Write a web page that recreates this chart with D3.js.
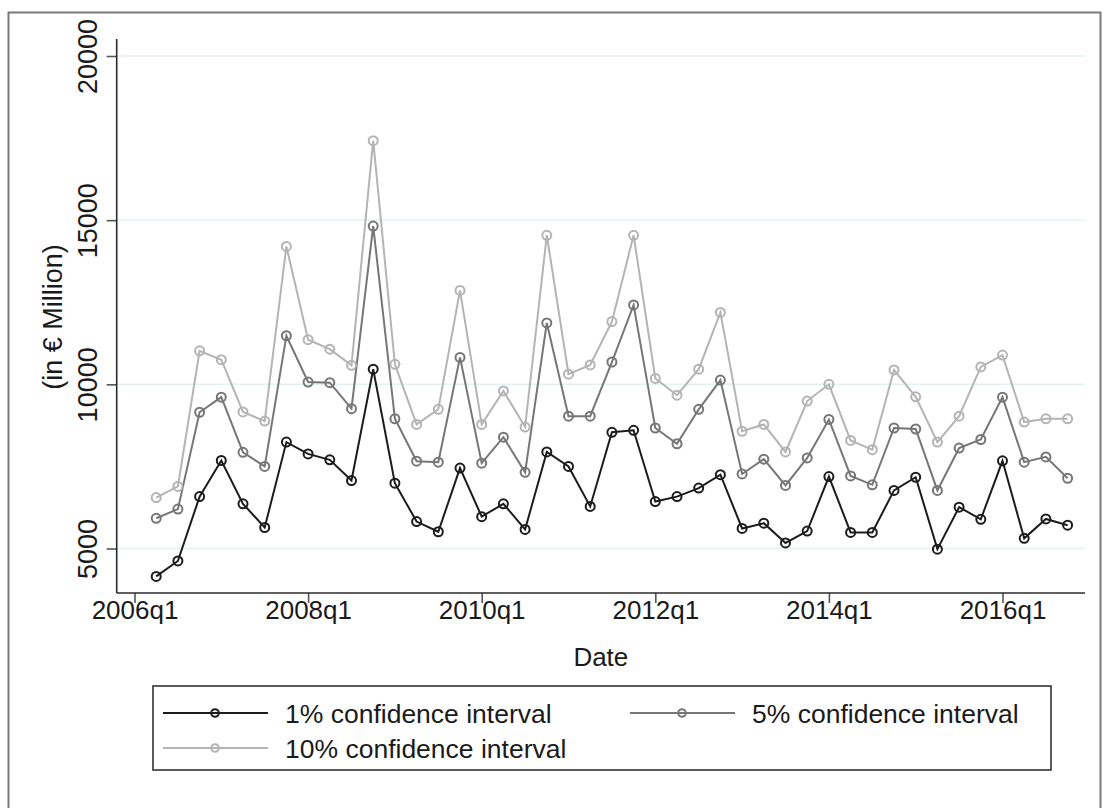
<!DOCTYPE html>
<html>
<head>
<meta charset="utf-8">
<script src="https://cdn.jsdelivr.net/npm/d3@7/dist/d3.min.js"></script>
<style>
  html, body { margin: 0; padding: 0; background: #fff; }
  svg { display: block; font-family: "Liberation Sans", Arial, sans-serif; }
</style>
</head>
<body>
<svg id="chart" width="1105" height="808"></svg>
<script>
// ---- data ----
const quarters = [
  "2006q2","2006q3","2006q4","2007q1","2007q2","2007q3","2007q4",
  "2008q1","2008q2","2008q3","2008q4","2009q1","2009q2","2009q3","2009q4",
  "2010q1","2010q2","2010q3","2010q4","2011q1","2011q2","2011q3","2011q4",
  "2012q1","2012q2","2012q3","2012q4","2013q1","2013q2","2013q3","2013q4",
  "2014q1","2014q2","2014q3","2014q4","2015q1","2015q2","2015q3","2015q4",
  "2016q1","2016q2","2016q3","2016q4"
];
const ci1 = [
  4150, 4620, 6580, 7680, 6360, 5640, 8240,
  7880, 7700, 7070, 10460, 6990, 5820, 5510, 7450,
  5970, 6360, 5580, 7940, 7500, 6280, 8540, 8600,
  6430, 6580, 6840, 7250, 5610, 5770, 5170, 5530,
  7190, 5490, 5490, 6770, 7170, 4980, 6260, 5890,
  7670, 5310, 5900, 5710
];
const ci5 = [
  5920, 6200, 9150, 9610, 7930, 7500, 11480,
  10070, 10050, 9260, 14820, 8950, 7660, 7630, 10820,
  7600, 8390, 7320, 11870, 9030, 9030, 10680, 12420,
  8670, 8190, 9240, 10130, 7270, 7720, 6920, 7760,
  8930, 7210, 6940, 8670, 8640, 6770, 8060, 8320,
  9610, 7630, 7790, 7140
];
const ci10 = [
  6550, 6890, 11020, 10750, 9160, 8880, 14200,
  11360, 11070, 10580, 17420, 10610, 8780, 9240, 12860,
  8780, 9800, 8700, 14540, 10310, 10590, 11910, 14540,
  10180, 9670, 10460, 12190, 8570, 8780, 7940, 9490,
  10000, 8290, 8010, 10440, 9620, 8240, 9030, 10530,
  10890, 8850, 8950, 8950
];
const xTickLabels = ["2006q1","2008q1","2010q1","2012q1","2014q1","2016q1"];
const yTicks = [5000, 10000, 15000, 20000];
const seriesNames = ["1% confidence interval", "5% confidence interval", "10% confidence interval"];

// ---- helpers ----
const qIndex = s => (parseInt(s.slice(0,4)) - 2006) * 4 + (parseInt(s.slice(5)) - 1);

const svg = d3.select("#chart");
const W = 1105, H = 808;

// plot geometry
const axisLeft = 116.7, axisRight = 1085, axisBottom = 593, axisTop = 39;

const x = d3.scaleLinear().domain([0, 40]).range([134.5, 1002.5]);
const y = d3.scaleLinear().domain([5000, 20000]).range([548.5, 56]);

// outer frame
svg.append("rect").attr("x", 8.5).attr("y", 12.5).attr("width", 1092).attr("height", 820)
  .attr("fill", "none").attr("stroke", "#7a7a7a").attr("stroke-width", 2);

// gridlines
svg.append("g").selectAll("line").data(yTicks).join("line")
  .attr("x1", axisLeft).attr("x2", axisRight)
  .attr("y1", d => y(d)).attr("y2", d => y(d))
  .attr("stroke", "#e6eff1").attr("stroke-width", 1.5);

// y axis
const yAxis = d3.axisLeft(y).tickValues(yTicks).tickSize(10).tickFormat(d3.format("d"));
const gy = svg.append("g").attr("transform", `translate(${axisLeft},0)`).call(yAxis);
gy.select(".domain").remove();
gy.append("line").attr("x1", 0).attr("x2", 0).attr("y1", axisTop).attr("y2", axisBottom)
  .attr("stroke", "#2a2a2a").attr("stroke-width", 1.6);
gy.selectAll(".tick line").attr("stroke", "#555").attr("stroke-width", 1.6);
gy.selectAll(".tick text")
  .attr("x", null).attr("dy", null)
  .attr("transform", "translate(-20,0) rotate(-90)")
  .attr("text-anchor", "middle")
  .attr("font-size", 27).attr("fill", "#1a1a1a")
  .attr("font-family", "Liberation Sans, Arial, sans-serif");

// x axis
const xAxis = d3.axisBottom(x).tickValues(xTickLabels.map(qIndex)).tickSize(10)
  .tickFormat((d, i) => xTickLabels[i]);
const gx = svg.append("g").attr("transform", `translate(0,${axisBottom})`).call(xAxis);
gx.select(".domain").remove();
gx.append("line").attr("x1", axisLeft).attr("x2", axisRight).attr("y1", 0).attr("y2", 0)
  .attr("stroke", "#2a2a2a").attr("stroke-width", 1.6);
gx.selectAll(".tick line").attr("stroke", "#555").attr("stroke-width", 1.6);
gx.selectAll(".tick text")
  .attr("y", 26).attr("dy", null)
  .attr("font-size", 26).attr("fill", "#1a1a1a")
  .attr("font-family", "Liberation Sans, Arial, sans-serif");

// axis titles
svg.append("text").attr("x", (axisLeft + axisRight) / 2).attr("y", 666)
  .attr("text-anchor", "middle").attr("font-size", 26).attr("fill", "#1a1a1a").text("Date");
svg.append("text").attr("transform", "translate(62,317) rotate(-90)")
  .attr("text-anchor", "middle").attr("font-size", 27).attr("fill", "#1a1a1a").text("(in € Million)");

// series
const series = [
  { name: seriesNames[0], values: ci1, color: "#1c1c1c" },
  { name: seriesNames[1], values: ci5, color: "#767676" },
  { name: seriesNames[2], values: ci10, color: "#b4b4b4" }
];
const line = d3.line().x(d => x(d.q)).y(d => y(d.v));

series.forEach(s => {
  const pts = quarters.map((q, i) => ({ q: qIndex(q), v: s.values[i] }));
  const g = svg.append("g");
  g.append("path").datum(pts).attr("d", line)
    .attr("fill", "none").attr("stroke", s.color).attr("stroke-width", 2);
  g.selectAll("circle").data(pts).join("circle")
    .attr("cx", d => x(d.q)).attr("cy", d => y(d.v)).attr("r", 4.5)
    .attr("fill", "none").attr("stroke", s.color).attr("stroke-width", 2);
});

// legend
const lg = svg.append("g");
lg.append("rect").attr("x", 153).attr("y", 686).attr("width", 898).attr("height", 84)
  .attr("fill", "#fff").attr("stroke", "#333").attr("stroke-width", 1.6);
const legendPos = [
  { lx: 163, ly: 713 },
  { lx: 630, ly: 713 },
  { lx: 163, ly: 748 }
];
series.forEach((s, i) => {
  const p = legendPos[i];
  lg.append("line").attr("x1", p.lx).attr("x2", p.lx + 105).attr("y1", p.ly).attr("y2", p.ly)
    .attr("stroke", s.color).attr("stroke-width", 2);
  lg.append("circle").attr("cx", p.lx + 52).attr("cy", p.ly).attr("r", 3.8)
    .attr("fill", "none").attr("stroke", s.color).attr("stroke-width", 2);
  lg.append("text").attr("x", p.lx + 122).attr("y", p.ly + 9.5)
    .attr("font-size", 26.5).attr("fill", "#1a1a1a").text(s.name);
});
</script>
</body>
</html>
